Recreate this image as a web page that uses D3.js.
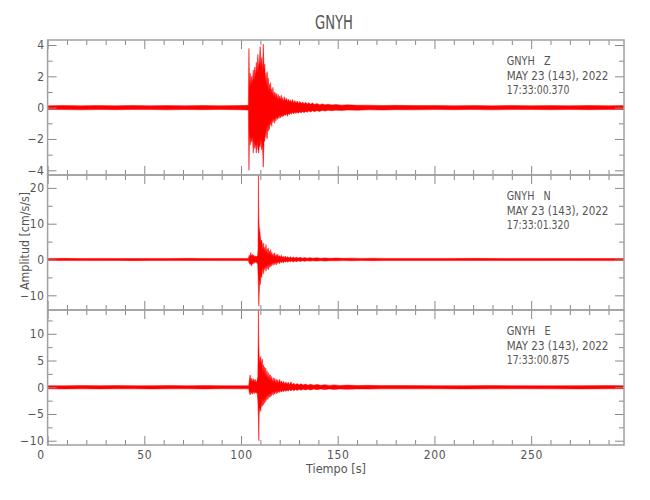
<!DOCTYPE html>
<html>
<head>
<meta charset="utf-8">
<script src="https://cdn.jsdelivr.net/npm/d3@7"></script>
<style>
  html, body { margin: 0; padding: 0; background: #fff; }
  svg { display: block; }
  text { font-family: "Liberation Sans Narrow", "DejaVu Sans Condensed", "Liberation Sans", sans-serif; fill: #555; }
</style>
</head>
<body>
<div id="chart"></div>
<script>
// ---------------- data ----------------
const stationName = "GNYH";
const channels = ["Z", "N", "E"];
const dateLabel = "MAY 23 (143), 2022";
const startTimes = ["17:33:00.370", "17:33:01.320", "17:33:00.875"];
const xDomain = [0, 298];
const xMajorTicks = [0, 50, 100, 150, 200, 250];
const xMinorStep = 10;
const yDomains = [[-4.3, 4.32], [-14.1, 23.6], [-10.8, 14.45]];
const yMajorTicks = [[-4, -2, 0, 2, 4], [-10, 0, 10, 20], [-10, -5, 0, 5, 10]];
const yMinorSteps = [1, 5, 2.5];
const xLabel = "Tiempo [s]";
const yLabel = "Amplitud [cm/s/s]";

// envelope of each trace: [time (s), upper value, lower value]
const zEnv = [
  [0,0.12,-0.12],[8,0.14,-0.12],[17,0.12,-0.14],[26,0.13,-0.12],[35,0.12,-0.13],[44,0.14,-0.12],
  [53,0.12,-0.12],[62,0.13,-0.14],[71,0.12,-0.12],[80,0.14,-0.13],[89,0.12,-0.12],[98,0.13,-0.13],
  [103.8,0.15,-0.15],[104.1,3.78,-4.0],[104.4,1.2,-1.5],[104.7,2.2,-2.4],[105.1,1.4,-1.9],
  [105.5,2.0,-2.2],[105.9,1.6,-1.8],[106.3,2.4,-2.9],[106.7,1.7,-2.1],[107.1,2.6,-2.6],
  [107.5,2.0,-2.3],[107.9,2.9,-2.9],[108.3,2.2,-2.2],[108.7,3.4,-2.6],[109.1,2.5,-2.9],
  [109.5,3.0,-2.4],[109.9,3.9,-2.5],[110.3,2.6,-2.0],[110.7,3.2,-2.7],[111.1,2.3,-2.4],
  [111.5,4.06,-3.8],[111.9,2.4,-2.2],[112.3,2.8,-2.1],[112.6,1.6,-1.5],[112.9,2.2,-1.9],
  [113.2,1.4,-1.2],[113.5,2.3,-2.0],[113.8,1.3,-1.1],[114.1,1.9,-1.5],[114.4,1.1,-1.0],
  [114.7,1.5,-1.4],[115.0,1.0,-0.9],[115.3,1.6,-1.1],[115.6,0.9,-0.8],[115.9,1.2,-1.2],
  [116.2,0.8,-0.7],[116.5,1.3,-0.95],[116.8,0.7,-0.8],[117.1,1.0,-0.7],[117.4,0.75,-1.0],
  [117.7,0.95,-0.6],[118.0,0.6,-0.85],[118.4,0.9,-0.6],[118.8,0.55,-0.75],[119.2,0.85,-0.55],
  [119.6,0.5,-0.7],[120.0,0.75,-0.5],[120.4,0.5,-0.65],[120.8,0.8,-0.45],[121.2,0.45,-0.6],
  [121.6,0.65,-0.5],[122.0,0.4,-0.55],[122.5,0.7,-0.42],[123.0,0.42,-0.5],[123.5,0.6,-0.38],
  [124.0,0.38,-0.55],[124.5,0.55,-0.35],[125.0,0.35,-0.45],[125.5,0.5,-0.32],[126.0,0.32,-0.42],
  [126.6,0.52,-0.3],[127.2,0.3,-0.4],[127.8,0.45,-0.3],[128.4,0.28,-0.38],[129.0,0.42,-0.28],
  [129.7,0.27,-0.35],[130.4,0.4,-0.27],[131.1,0.26,-0.34],[131.8,0.36,-0.25],[132.6,0.25,-0.32],
  [133.4,0.35,-0.24],[134.2,0.23,-0.3],[135.0,0.32,-0.22],[136,0.22,-0.28],[137,0.3,-0.2],
  [138,0.2,-0.26],[139.2,0.27,-0.19],[140.5,0.19,-0.24],[142,0.24,-0.18],[143.5,0.18,-0.22],
  [145,0.22,-0.17],[147,0.17,-0.2],[149,0.2,-0.16],[152,0.16,-0.18],[155,0.18,-0.15],
  [160,0.15,-0.16],[166,0.16,-0.14],[173,0.14,-0.15],[180,0.15,-0.13],[190,0.13,-0.14],
  [200,0.14,-0.12],[210,0.12,-0.13],[220,0.13,-0.12],[230,0.12,-0.14],[240,0.14,-0.12],
  [250,0.12,-0.12],[260,0.13,-0.13],[270,0.12,-0.12],[280,0.14,-0.13],[290,0.12,-0.12],
  [298,0.13,-0.12]
];
const nEnv = [
  [0,0.3,-0.3],[9,0.32,-0.28],[18,0.28,-0.31],[27,0.31,-0.3],[36,0.3,-0.28],[45,0.28,-0.32],
  [54,0.31,-0.29],[63,0.29,-0.3],[72,0.32,-0.3],[81,0.3,-0.28],[90,0.28,-0.31],[99,0.31,-0.3],
  [103.8,0.3,-0.3],[104.2,1.2,-1.0],[104.6,0.8,-1.4],[105.0,1.9,-1.2],[105.4,1.0,-1.8],
  [105.8,1.5,-1.1],[106.2,0.9,-1.3],[106.6,1.3,-0.8],[107.1,0.7,-1.0],[107.6,1.0,-0.7],
  [108.1,0.8,-0.9],[108.6,1.2,-1.3],[108.8,3.0,-4.0],[109.0,23.4,-8.0],[109.2,12.0,-13.0],
  [109.4,9.0,-9.5],[109.7,8.1,-5.7],[110.0,6.3,-7.0],[110.3,5.0,-4.4],[110.7,5.4,-5.0],
  [111.1,4.0,-3.2],[111.4,2.6,-2.2],[111.7,4.6,-4.0],[112.0,2.2,-2.0],[112.3,3.4,-2.8],
  [112.6,1.8,-1.6],[112.9,4.2,-3.3],[113.2,1.9,-1.7],[113.5,3.0,-2.6],[113.8,1.5,-1.4],
  [114.1,3.2,-2.9],[114.4,1.4,-1.2],[114.7,2.4,-2.2],[115.0,1.2,-1.1],[115.3,2.8,-2.0],
  [115.6,1.1,-1.0],[115.9,2.0,-1.8],[116.2,0.9,-0.9],[116.6,1.7,-1.6],[117.0,0.8,-0.8],
  [117.4,1.9,-1.4],[117.8,0.7,-0.75],[118.2,1.4,-1.5],[118.6,0.7,-0.6],[119.0,1.5,-1.1],
  [119.4,0.6,-0.6],[119.8,1.1,-1.2],[120.3,0.6,-0.55],[120.8,1.2,-0.9],[121.3,0.55,-0.5],
  [121.8,0.9,-1.0],[122.3,0.5,-0.5],[122.9,1.0,-0.8],[123.5,0.5,-0.45],[124.1,0.8,-0.8],
  [124.8,0.45,-0.45],[125.5,0.8,-0.65],[126.2,0.45,-0.4],[127.0,0.7,-0.7],[127.8,0.42,-0.4],
  [128.7,0.65,-0.6],[129.6,0.4,-0.38],[130.6,0.6,-0.55],[131.7,0.38,-0.37],[132.9,0.55,-0.5],
  [134.2,0.36,-0.35],[135.6,0.5,-0.45],[137.2,0.35,-0.34],[139,0.48,-0.44],[141,0.34,-0.33],
  [143.5,0.44,-0.42],[146,0.33,-0.32],[149,0.4,-0.38],[153,0.32,-0.31],[157,0.37,-0.35],
  [162,0.31,-0.3],[168,0.34,-0.33],[175,0.3,-0.3],[190,0.31,-0.3],[205,0.3,-0.31],
  [220,0.32,-0.29],[235,0.29,-0.3],[250,0.31,-0.3],[265,0.3,-0.28],[280,0.28,-0.31],
  [298,0.3,-0.3]
];
const eEnv = [
  [0,0.3,-0.3],[9,0.28,-0.32],[18,0.32,-0.29],[27,0.3,-0.31],[36,0.31,-0.28],[45,0.29,-0.3],
  [54,0.3,-0.32],[63,0.32,-0.3],[72,0.28,-0.29],[81,0.31,-0.31],[90,0.3,-0.28],[99,0.29,-0.3],
  [104.0,0.3,-0.3],[104.3,1.4,-1.0],[104.7,2.3,-1.45],[105.1,1.2,-0.9],[105.5,1.7,-1.1],
  [105.9,1.0,-1.3],[106.3,1.6,-0.8],[106.8,1.1,-1.2],[107.3,1.5,-0.9],[107.8,0.9,-1.1],
  [108.3,1.3,-1.0],[108.7,2.0,-2.5],[109.0,14.3,-6.0],[109.2,8.0,-10.0],[109.4,5.8,-4.9],
  [109.8,4.6,-3.8],[110.2,5.75,-4.5],[110.6,4.2,-3.2],[111.0,5.3,-3.6],[111.3,2.8,-2.2],
  [111.6,4.2,-3.3],[111.9,2.4,-2.0],[112.2,3.8,-3.0],[112.5,2.0,-1.8],[112.8,3.6,-2.7],
  [113.1,1.8,-1.6],[113.4,3.1,-2.4],[113.7,1.6,-1.4],[114.0,2.8,-2.2],[114.3,1.4,-1.3],
  [114.6,2.4,-1.9],[114.9,1.3,-1.1],[115.2,2.3,-1.8],[115.5,1.1,-1.0],[115.8,2.0,-1.6],
  [116.2,1.0,-0.9],[116.6,1.8,-1.5],[117.0,0.9,-0.8],[117.4,1.7,-1.3],[117.8,0.85,-0.75],
  [118.2,1.5,-1.2],[118.6,0.8,-0.7],[119.0,1.4,-1.1],[119.5,0.75,-0.65],[120.0,1.5,-1.0],
  [120.5,0.7,-0.6],[121.0,1.2,-0.9],[121.5,0.65,-0.55],[122.0,1.1,-0.85],[122.6,0.6,-0.5],
  [123.2,1.0,-0.8],[123.8,0.55,-0.5],[124.4,0.95,-0.75],[125.1,0.5,-0.45],[125.8,1.0,-0.7],
  [126.5,0.5,-0.42],[127.3,0.75,-0.65],[128.1,0.45,-0.4],[129,0.7,-0.6],[130,0.42,-0.38],
  [131,0.65,-0.55],[132.1,0.4,-0.36],[133.3,0.6,-0.5],[134.6,0.38,-0.35],[136,0.55,-0.5],
  [137.6,0.37,-0.34],[139.3,0.52,-0.46],[141.2,0.36,-0.33],[143.3,0.48,-0.43],[145.6,0.35,-0.32],
  [148,0.44,-0.4],[151,0.33,-0.32],[155,0.4,-0.37],[160,0.32,-0.31],[166,0.36,-0.34],
  [172,0.31,-0.3],[185,0.31,-0.3],[200,0.3,-0.29],[215,0.29,-0.31],[230,0.31,-0.3],
  [245,0.3,-0.28],[260,0.28,-0.3],[275,0.3,-0.31],[290,0.31,-0.29],[298,0.3,-0.3]
];
const envelopes = [zEnv, nEnv, eEnv];

// ---------------- layout ----------------
const W = 650, H = 500;
const plotLeft = 47.6, plotRight = 624;
const panelTops = [40, 175, 310];
const panelH = 135;
const frameColor = "#a0a0a0", tickColor = "#888";
const traceColor = "#ff0000";

const svg = d3.select("#chart").append("svg").attr("width", W).attr("height", H);

const x = d3.scaleLinear().domain(xDomain).range([plotLeft, plotRight]);
const fmt = v => (v < 0 ? "\u2212" + Math.abs(v) : String(v));

function minorTicks(domain, step, major) {
  const out = [];
  const start = Math.ceil(domain[0] / step) * step;
  for (let v = start; v <= domain[1] + 1e-9; v += step) {
    const r = Math.round(v * 1000) / 1000;
    if (!major.some(m => Math.abs(m - r) < 1e-9)) out.push(r);
  }
  return out;
}
const xMinor = minorTicks(xDomain, xMinorStep, xMajorTicks);

function styleAxis(g) {
  g.select(".domain").remove();
  g.selectAll(".tick line").attr("stroke", tickColor).attr("stroke-width", 1);
  g.selectAll(".tick text").attr("font-size", 12).attr("fill", "#555")
    .attr("font-family", '"Liberation Sans Narrow", "DejaVu Sans Condensed", sans-serif')
    .style("letter-spacing", "0.6px");
}

panelTops.forEach((top, i) => {
  const bottom = top + panelH;
  const y = d3.scaleLinear().domain(yDomains[i]).range([bottom, top]);
  const g = svg.append("g");

  const clipId = "clip" + i;
  svg.append("clipPath").attr("id", clipId).append("rect")
    .attr("x", plotLeft).attr("y", top).attr("width", plotRight - plotLeft).attr("height", panelH);

  // trace (envelope of the seismogram)
  const area = d3.area()
    .x(d => x(d[0]))
    .y0(d => y(d[2]))
    .y1(d => y(d[1]))
    .curve(d3.curveLinear);
  g.append("path")
    .datum(envelopes[i])
    .attr("clip-path", `url(#${clipId})`)
    .attr("d", area)
    .attr("fill", traceColor)
    .attr("stroke", traceColor)
    .attr("stroke-width", 0.5)
    .attr("stroke-linejoin", "round");

  // axes: ticks inward on all four sides
  const yMinor = minorTicks(yDomains[i], yMinorSteps[i], yMajorTicks[i]);
  g.append("g").attr("transform", `translate(${plotLeft},0)`)
    .call(d3.axisLeft(y).tickValues(yMajorTicks[i]).tickSize(-9).tickPadding(3).tickFormat(fmt))
    .call(styleAxis);
  g.append("g").attr("transform", `translate(${plotLeft},0)`)
    .call(d3.axisLeft(y).tickValues(yMinor).tickSize(-5).tickFormat(""))
    .call(styleAxis);
  g.append("g").attr("transform", `translate(${plotRight},0)`)
    .call(d3.axisRight(y).tickValues(yMajorTicks[i]).tickSize(-9).tickFormat(""))
    .call(styleAxis);
  g.append("g").attr("transform", `translate(${plotRight},0)`)
    .call(d3.axisRight(y).tickValues(yMinor).tickSize(-5).tickFormat(""))
    .call(styleAxis);

  g.append("g").attr("transform", `translate(0,${top})`)
    .call(d3.axisTop(x).tickValues(xMajorTicks).tickSize(-9).tickFormat(""))
    .call(styleAxis);
  g.append("g").attr("transform", `translate(0,${top})`)
    .call(d3.axisTop(x).tickValues(xMinor).tickSize(-5).tickFormat(""))
    .call(styleAxis);
  const bottomAxis = g.append("g").attr("transform", `translate(0,${bottom})`)
    .call(d3.axisBottom(x).tickValues(xMajorTicks).tickSize(-9).tickPadding(5)
      .tickFormat(i === 2 ? (d => String(d)) : ""))
    .call(styleAxis);
  if (i === 2) {
    bottomAxis.selectAll(".tick text").attr("dx", d => (d === 0 ? -7 : 0));
  }
  g.append("g").attr("transform", `translate(0,${bottom})`)
    .call(d3.axisBottom(x).tickValues(xMinor).tickSize(-5).tickFormat(""))
    .call(styleAxis);

  // frame
  g.append("rect")
    .attr("x", plotLeft).attr("y", top)
    .attr("width", plotRight - plotLeft).attr("height", panelH)
    .attr("fill", "none").attr("stroke", frameColor).attr("stroke-width", 1.5);

  // annotation
  const ann = g.append("g").attr("font-size", 12);
  ann.append("text").attr("x", 506.7).attr("y", top + 25)
    .attr("xml:space", "preserve").style("white-space", "pre")
    .attr("textLength", 44).attr("lengthAdjust", "spacingAndGlyphs")
    .text(stationName + "   " + channels[i]);
  ann.append("text").attr("x", 506.7).attr("y", top + 40)
    .attr("textLength", 101.7).attr("lengthAdjust", "spacingAndGlyphs")
    .text(dateLabel);
  ann.append("text").attr("x", 506.7).attr("y", top + 54.3)
    .attr("textLength", 62.7).attr("lengthAdjust", "spacingAndGlyphs")
    .text(startTimes[i]);
});

// title
svg.append("text").attr("x", 334).attr("y", 28.5)
  .attr("text-anchor", "middle").attr("font-size", 20).attr("fill", "#666")
  .attr("textLength", 38).attr("lengthAdjust", "spacingAndGlyphs")
  .text(stationName);

// axis labels
svg.append("text").attr("x", 336).attr("y", 473)
  .attr("text-anchor", "middle").attr("font-size", 12.5)
  .attr("textLength", 60).attr("lengthAdjust", "spacingAndGlyphs")
  .text(xLabel);

svg.append("text").attr("transform", "translate(28.5,241) rotate(-90)")
  .attr("text-anchor", "middle").attr("font-size", 12.5)
  .attr("textLength", 98).attr("lengthAdjust", "spacingAndGlyphs")
  .text(yLabel);
</script>
</body>
</html>
